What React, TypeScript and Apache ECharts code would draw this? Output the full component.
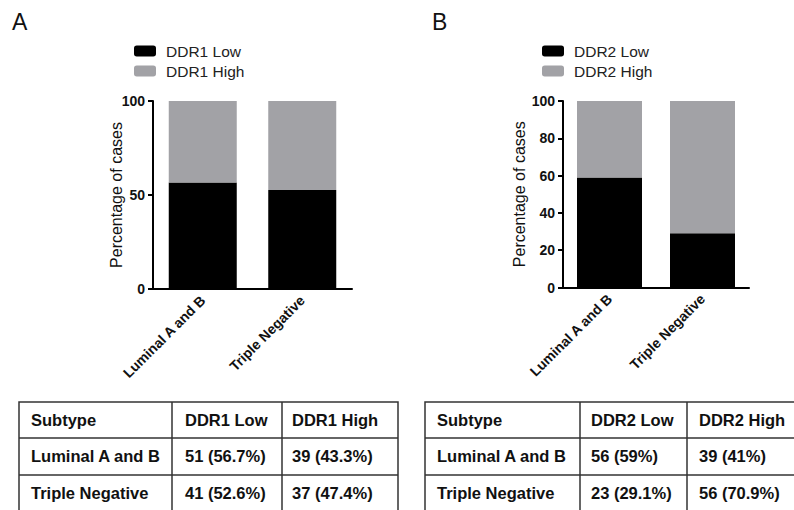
import React, { useEffect, useRef } from "react";
import * as echarts from "echarts";

const categories = ["Luminal A and B", "Triple Negative"];
const ddr1LowPct = [56.7, 52.6];
const ddr1HighPct = [43.3, 47.4];
const ddr1LowN = [51, 41];
const ddr1HighN = [39, 37];
const ddr2LowPct = [59, 29.1];
const ddr2HighPct = [41, 70.9];
const ddr2LowN = [56, 23];
const ddr2HighN = [39, 56];
const ddr1Names = ["DDR1 Low", "DDR1 High"];
const ddr2Names = ["DDR2 Low", "DDR2 High"];

const FONT = "'Liberation Sans', Arial, Helvetica, sans-serif";
const BLACK = "#000000";
const GRAY = "#a2a2a6";

function cell(n: number, p: number) {
  return `${n} (${p}%)`;
}

function tableGraphics(
  x0: number,
  x1: number,
  colX: number[],
  names: string[],
  lowN: number[],
  lowP: number[],
  highN: number[],
  highP: number[],
  pads: number[]
) {
  const top = 402;
  const rowLines = [438, 475];
  const bottom = 512;
  const rowCenters = [420, 456, 493];
  const els: any[] = [];
  const stroke = { stroke: "#333", lineWidth: 1.5 };
  els.push({ type: "rect", shape: { x: x0, y: top, width: x1 - x0, height: bottom - top }, style: { fill: "none", ...stroke } });
  rowLines.forEach((y) => els.push({ type: "line", shape: { x1: x0, y1: y, x2: x1, y2: y }, style: stroke }));
  colX.forEach((x) => els.push({ type: "line", shape: { x1: x, y1: top, x2: x, y2: bottom }, style: stroke }));
  const rows = [
    ["Subtype", names[0], names[1]],
    [categories[0], cell(lowN[0], lowP[0]), cell(highN[0], highP[0])],
    [categories[1], cell(lowN[1], lowP[1]), cell(highN[1], highP[1])],
  ];
  const colStarts = [x0, colX[0], colX[1]];
  rows.forEach((r, ri) =>
    r.forEach((t, ci) =>
      els.push({
        type: "text",
        x: colStarts[ci] + pads[ci],
        y: rowCenters[ri],
        style: { text: t, font: `bold 16.5px ${FONT}`, fill: "#111", textVerticalAlign: "middle", textAlign: "left" },
      })
    )
  );
  return els;
}

export default function App() {
  const ref = useRef<HTMLDivElement>(null);
  useEffect(() => {
    if (!ref.current) return;
    const chart = echarts.init(ref.current, null, { renderer: "svg" });
    const xAxisBase = (gi: number) => ({
      type: "category",
      gridIndex: gi,
      data: categories,
      axisLine: { lineStyle: { color: BLACK, width: 2 } },
      axisTick: { alignWithLabel: true, length: 5, lineStyle: { color: BLACK, width: 2 } },
      axisLabel: { rotate: 45, fontSize: 14, fontWeight: "bold", color: "#111", fontFamily: FONT, margin: 9 },
      splitLine: { show: false },
    });
    const yAxisBase = (gi: number, interval: number, nameGap: number) => ({
      type: "value",
      gridIndex: gi,
      min: 0,
      max: 100,
      interval,
      name: "Percentage of cases",
      nameLocation: "middle",
      nameGap,
      nameMoveOverlap: false,
      nameTextStyle: { fontSize: 16, color: "#111", fontFamily: FONT },
      axisLine: { show: true, lineStyle: { color: BLACK, width: 2 } },
      axisTick: { show: true, length: 5, lineStyle: { color: BLACK, width: 2 } },
      axisLabel: { fontSize: 14, fontWeight: "bold", color: "#111", fontFamily: FONT, margin: 8 },
      splitLine: { show: false },
    });
    const legendBase = (left: number, data: string[]) => ({
      orient: "vertical",
      left,
      top: 43,
      padding: 0,
      itemWidth: 22,
      itemHeight: 11,
      itemGap: 4,
      icon: "roundRect",
      selectedMode: false,
      data,
      textStyle: { fontSize: 15.5, color: "#222", fontFamily: FONT, padding: [0, 0, 0, 5] },
    });
    chart.setOption({
      animation: false,
      backgroundColor: "#ffffff",
      textStyle: { fontFamily: FONT },
      grid: [
        { left: 153, top: 101, width: 199, height: 188 },
        { left: 563, top: 101, width: 186, height: 186.5 },
      ],
      legend: [legendBase(134, ddr1Names), legendBase(542, ddr2Names)],
      xAxis: [xAxisBase(0), xAxisBase(1)],
      yAxis: [yAxisBase(0, 50, 29), yAxisBase(1, 20, 36)],
      series: [
        { type: "bar", name: ddr1Names[0], xAxisIndex: 0, yAxisIndex: 0, stack: "a", barWidth: 68, data: ddr1LowPct, itemStyle: { color: BLACK } },
        { type: "bar", name: ddr1Names[1], xAxisIndex: 0, yAxisIndex: 0, stack: "a", barWidth: 68, data: ddr1HighPct, itemStyle: { color: GRAY } },
        { type: "bar", name: ddr2Names[0], xAxisIndex: 1, yAxisIndex: 1, stack: "b", barWidth: 65, data: ddr2LowPct, itemStyle: { color: BLACK } },
        { type: "bar", name: ddr2Names[1], xAxisIndex: 1, yAxisIndex: 1, stack: "b", barWidth: 65, data: ddr2HighPct, itemStyle: { color: GRAY } },
      ],
      graphic: [
        { type: "text", x: 12, y: 10, style: { text: "A", font: `23px ${FONT}`, fill: "#111" } },
        { type: "text", x: 432, y: 10, style: { text: "B", font: `23px ${FONT}`, fill: "#111" } },
        ...tableGraphics(19, 398, [172, 282], ddr1Names, ddr1LowN, ddr1LowPct, ddr1HighN, ddr1HighPct, [12, 13, 10]),
        ...tableGraphics(425, 830, [580, 687], ddr2Names, ddr2LowN, ddr2LowPct, ddr2HighN, ddr2HighPct, [12, 11, 12]),
      ],
    });
    return () => chart.dispose();
  }, []);
  return <div ref={ref} style={{ position: "absolute", left: 0, top: 0, width: 794, height: 510 }} />;
}
